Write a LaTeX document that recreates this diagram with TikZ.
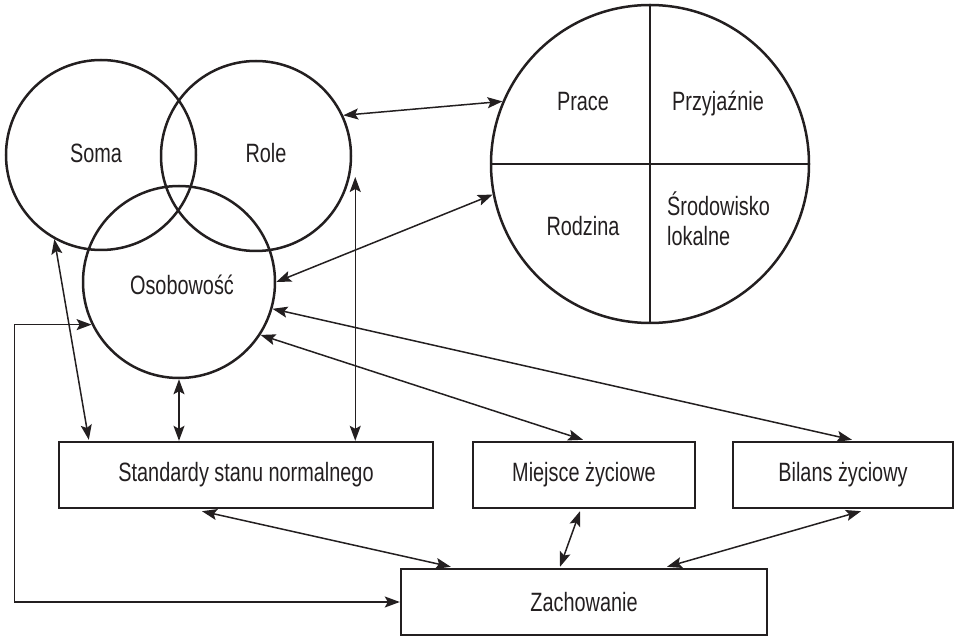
\documentclass[tikz,border=0pt]{standalone}
\usepackage{fontspec}
\setmainfont{Liberation Sans}[FakeStretch=0.75]
\usetikzlibrary{arrows.meta,calc}
\definecolor{ink}{HTML}{231F20}
\begin{document}
\begin{tikzpicture}[x=1pt,y=-1pt,
  every node/.style={text=ink, font=\fontsize{26.5}{30}\selectfont},
  circ/.style={draw=ink, circle, line width=2.5pt, inner sep=0pt},
  box/.style={draw=ink, rectangle, line width=2.4pt, inner sep=0pt, minimum height=66pt},
  txt/.style={inner sep=0pt, anchor=base},
  arr/.style={draw=ink, line width=1.5pt, {Stealth[length=15pt,width=11pt,inset=3pt]}-{Stealth[length=15pt,width=11pt,inset=3pt]}},
  quad/.style={draw=ink, line width=2.4pt}]
\useasboundingbox (0,0) rectangle (954,636);

% circles
\node[circ, minimum size=190pt] (soma) at (101,155) {};
\node[circ, minimum size=190pt] (role) at (256,156) {};
\node[circ, minimum size=192pt] (osob) at (179,282) {};
\node[circ, minimum size=318pt] (big) at (650,164) {};
\draw[quad] (big.north) -- (big.south);
\draw[quad] (big.west) -- (big.east);

% circle texts
\node[txt] (tsoma) at (96,163) {Soma};
\node[txt] (trole) at (266,163) {Role};
\node[txt] (tosob) at (182,295) {Osobowość};
\node[txt] (tprace) at (583,111) {Prace};
\node[txt] (tprzy) at (718,111) {Przyjaźnie};
\node[txt] (trodz) at (583,236) {Rodzina};
\node[inner sep=0pt, anchor=west, align=left] (tsrod) at (667,219) {Środowisko\\lokalne};

% boxes
\node[box, minimum width=374pt] (std) at (246,475) {Standardy stanu normalnego};
\node[box, minimum width=222pt] (miej) at (584,475) {Miejsce życiowe};
\node[box, minimum width=220pt] (bil) at (843,475) {Bilans życiowy};
\node[box, minimum width=366pt] (zach) at (584,602) {Zachowanie};

% connectors
\draw[arr] (soma.241) -- ($(std.north west)+(31,-1)$);
\draw[arr] (osob.south) -- (osob.south |- std.north);
\coordinate (rt) at ($(role.east)+(3,21)$);
\draw[arr] (rt) -- (rt |- std.north);
\draw[arr] (role.25) -- (big.157);
\draw[arr] (osob.east) -- (big.191);
\draw[arr] (osob.344) -- ($(bil.north)+(9,-1)$);
\draw[arr] (osob.327) -- ($(miej.north)+(-1,-1)$);
\draw[arr] ($(std.south)+(-44,2)$) -- ($(zach.north west)+(51,-1)$);
\draw[arr] ($(miej.south)+(-4,2)$) -- ($(zach.north)+(-24,-1)$);
\draw[arr] ($(bil.south)+(18,2)$) -- ($(zach.north)+(83,-1)$);
\draw[arr] (osob.206) -- ++(-77,0) |- (zach.west);
\end{tikzpicture}
\end{document}
